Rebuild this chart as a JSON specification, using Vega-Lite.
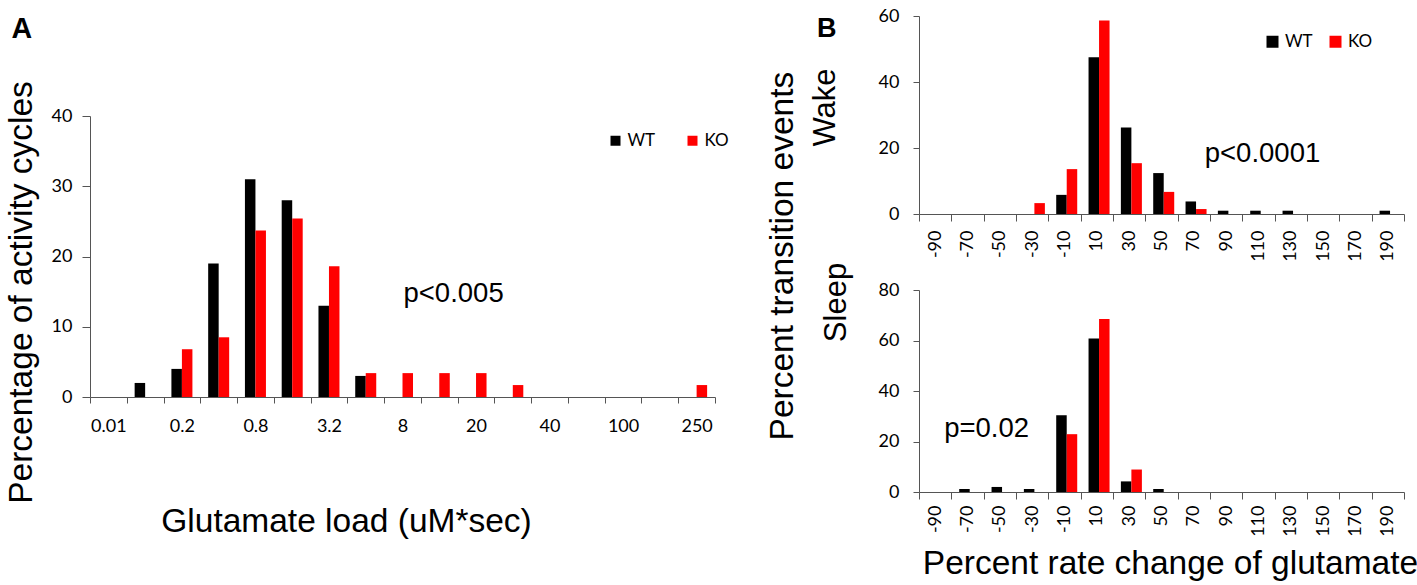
{
  "$schema": "https://vega.github.io/schema/vega-lite/v6.json",
  "background": "white",
  "padding": {"left": 4, "top": 7, "right": 0, "bottom": 0},
  "config": {
    "view": {"stroke": null},
    "axis": {
      "grid": false,
      "domainColor": "#555555",
      "tickColor": "#555555",
      "labelColor": "#000000",
      "labelFont": "Lato",
      "labelFontSize": 18,
      "titleFont": "Liberation Sans",
      "titleFontWeight": "normal",
      "titleColor": "#000000",
      "titleFontSize": 33.5
    },
    "legend": {
      "orient": "none",
      "direction": "horizontal",
      "title": null,
      "symbolType": "square",
      "symbolStrokeWidth": 0,
      "symbolOpacity": 1,
      "labelFont": "Lato",
      "labelFontSize": 17,
      "labelColor": "#000000",
      "padding": 0
    },
    "text": {"font": "Liberation Sans", "fontSize": 27.5, "color": "#000000"}
  },
  "datasets": {
    "load": [
      {"bin": "0.1", "genotype": "WT", "pct": 2},
      {"bin": "0.2", "genotype": "WT", "pct": 4},
      {"bin": "0.4", "genotype": "WT", "pct": 19},
      {"bin": "0.8", "genotype": "WT", "pct": 31},
      {"bin": "1.6", "genotype": "WT", "pct": 28},
      {"bin": "3.2", "genotype": "WT", "pct": 13},
      {"bin": "5", "genotype": "WT", "pct": 3},
      {"bin": "0.2", "genotype": "KO", "pct": 6.8},
      {"bin": "0.4", "genotype": "KO", "pct": 8.5},
      {"bin": "0.8", "genotype": "KO", "pct": 23.7},
      {"bin": "1.6", "genotype": "KO", "pct": 25.4},
      {"bin": "3.2", "genotype": "KO", "pct": 18.6},
      {"bin": "5", "genotype": "KO", "pct": 3.4},
      {"bin": "8", "genotype": "KO", "pct": 3.4},
      {"bin": "10", "genotype": "KO", "pct": 3.4},
      {"bin": "20", "genotype": "KO", "pct": 3.4},
      {"bin": "30", "genotype": "KO", "pct": 1.7},
      {"bin": "250", "genotype": "KO", "pct": 1.7}
    ],
    "wake": [
      {"change": -10, "genotype": "WT", "pct": 5.8},
      {"change": 10, "genotype": "WT", "pct": 47.5},
      {"change": 30, "genotype": "WT", "pct": 26.2},
      {"change": 50, "genotype": "WT", "pct": 12.4},
      {"change": 70, "genotype": "WT", "pct": 3.8},
      {"change": 90, "genotype": "WT", "pct": 1},
      {"change": 110, "genotype": "WT", "pct": 1},
      {"change": 130, "genotype": "WT", "pct": 1},
      {"change": 190, "genotype": "WT", "pct": 1},
      {"change": -30, "genotype": "KO", "pct": 3.3},
      {"change": -10, "genotype": "KO", "pct": 13.6},
      {"change": 10, "genotype": "KO", "pct": 58.6},
      {"change": 30, "genotype": "KO", "pct": 15.4},
      {"change": 50, "genotype": "KO", "pct": 6.7},
      {"change": 70, "genotype": "KO", "pct": 1.5}
    ],
    "sleep": [
      {"change": -70, "genotype": "WT", "pct": 1.2},
      {"change": -50, "genotype": "WT", "pct": 2},
      {"change": -30, "genotype": "WT", "pct": 1.2},
      {"change": -10, "genotype": "WT", "pct": 30.4},
      {"change": 10, "genotype": "WT", "pct": 60.8},
      {"change": 30, "genotype": "WT", "pct": 4.2},
      {"change": 50, "genotype": "WT", "pct": 1.2},
      {"change": -10, "genotype": "KO", "pct": 22.9},
      {"change": 10, "genotype": "KO", "pct": 68.5},
      {"change": 30, "genotype": "KO", "pct": 8.9}
    ]
  },
  "spacing": 10,
  "resolve": {"legend": {"color": "independent"}},
  "hconcat": [
    {
      "width": 625,
      "height": 381,
      "resolve": {"axis": {"x": "independent", "y": "independent"}},
      "layer": [
        {
          "data": {"name": "load"},
          "mark": {"type": "bar"},
          "encoding": {
            "x": {
              "field": "bin",
              "type": "ordinal",
              "sort": null,
              "scale": {
                "domain": ["0.01", "0.1", "0.2", "0.4", "0.8", "1.6", "3.2", "5", "8", "10", "20", "30", "40", "60", "100", "150", "250"],
                "paddingInner": 0,
                "paddingOuter": 0
              },
              "axis": {
                "orient": "bottom",
                "title": "Glutamate load (uM*sec)",
                "labelAngle": 0,
                "tickBand": "extent",
                "tickSize": 6,
                "labelPadding": 14,
                "labelExpr": "indexof(['0.01','0.2','0.8','3.2','8','20','40','100','250'], datum.value) >= 0 ? datum.label : ''",
                "titleX": 256,
                "titleY": 134.4,
                "titleBaseline": "alphabetic"
              }
            },
            "xOffset": {"field": "genotype", "scale": {"domain": ["WT", "KO"], "paddingInner": 0, "paddingOuter": 0.75}},
            "y": {
              "field": "pct",
              "type": "quantitative",
              "scale": {"domain": [0, 40], "range": [381, 100]},
              "axis": {
                "orient": "left",
                "values": [0, 10, 20, 30, 40],
                "title": "Percentage of activity cycles",
                "tickSize": 8,
                "labelPadding": 10,
                "labelFlush": false,
                "titleAngle": 270,
                "titleX": -58.4,
                "titleY": 276,
                "titleBaseline": "alphabetic"
              }
            },
            "color": {
              "field": "genotype",
              "type": "nominal",
              "scale": {"domain": ["WT", "KO"], "range": ["#000000", "#ff0000"]},
              "legend": {"legendX": 517, "legendY": 116, "symbolSize": 100, "labelOffset": 3.5, "columnPadding": 28}
            }
          }
        },
        {
          "data": {"values": [{}]},
          "mark": {"type": "text", "text": "p<0.005", "align": "left", "baseline": "alphabetic", "dx": 1},
          "encoding": {
            "x": {
              "datum": "8",
              "type": "ordinal",
              "axis": {
                "orient": "top",
                "labels": false,
                "ticks": false,
                "domain": false,
                "title": "A",
                "titleFontSize": 28.6,
                "titleFontWeight": "bold",
                "titleAlign": "left",
                "titleX": -79,
                "titleY": 21.3,
                "titleBaseline": "alphabetic"
              }
            },
            "y": {
              "datum": 13.56,
              "type": "quantitative",
              "axis": {
                "orient": "right",
                "labels": false,
                "ticks": false,
                "domain": false,
                "title": "Percent transition events",
                "titleAngle": 270,
                "titleX": 77,
                "titleY": 239.6,
                "titleBaseline": "alphabetic"
              }
            }
          }
        }
      ]
    },
    {
      "spacing": 0,
      "resolve": {"legend": {"color": "independent"}},
      "vconcat": [
        {
          "width": 485,
          "height": 198,
          "resolve": {"axis": {"x": "independent"}},
          "layer": [
            {
              "data": {"name": "wake"},
              "mark": {"type": "bar"},
              "encoding": {
                "x": {
                  "field": "change",
                  "type": "ordinal",
                  "scale": {"domain": [-90, -70, -50, -30, -10, 10, 30, 50, 70, 90, 110, 130, 150, 170, 190], "paddingInner": 0, "paddingOuter": 0},
                  "axis": {"orient": "bottom", "title": null, "labelAngle": 270, "tickBand": "extent", "tickSize": 7, "labelPadding": 9}
                },
                "xOffset": {"field": "genotype", "scale": {"domain": ["WT", "KO"], "paddingInner": 0, "paddingOuter": 0.75}},
                "y": {
                  "field": "pct",
                  "type": "quantitative",
                  "scale": {"domain": [0, 60]},
                  "axis": {
                    "values": [0, 20, 40, 60],
                    "title": "Wake",
                    "titleFontSize": 31,
                    "tickSize": 6,
                    "labelPadding": 14,
                    "labelFlush": false,
                    "titleAngle": 270,
                    "titleX": -85,
                    "titleY": 91,
                    "titleBaseline": "alphabetic"
                  }
                },
                "color": {
                  "field": "genotype",
                  "type": "nominal",
                  "scale": {"domain": ["WT", "KO"], "range": ["#000000", "#ff0000"]},
                  "legend": {"legendX": 345, "legendY": 17, "symbolSize": 144, "labelOffset": 4, "columnPadding": 14}
                }
              }
            },
            {
              "data": {"values": [{}]},
              "mark": {"type": "text", "text": "p<0.0001", "align": "center", "baseline": "alphabetic", "dx": 4},
              "encoding": {
                "x": {
                  "datum": 110,
                  "type": "ordinal",
                  "axis": {
                    "orient": "top",
                    "labels": false,
                    "ticks": false,
                    "domain": false,
                    "title": "B",
                    "titleFontSize": 27,
                    "titleFontWeight": "bold",
                    "titleAlign": "left",
                    "titleX": -102.5,
                    "titleY": 20.3,
                    "titleBaseline": "alphabetic"
                  }
                },
                "y": {"datum": 15.9, "type": "quantitative"}
              }
            }
          ]
        },
        {
          "width": 485,
          "height": 202,
          "layer": [
            {
              "data": {"name": "sleep"},
              "mark": {"type": "bar"},
              "encoding": {
                "x": {
                  "field": "change",
                  "type": "ordinal",
                  "scale": {"domain": [-90, -70, -50, -30, -10, 10, 30, 50, 70, 90, 110, 130, 150, 170, 190], "paddingInner": 0, "paddingOuter": 0},
                  "axis": {
                    "title": "Percent rate change of glutamate",
                    "labelAngle": 270,
                    "tickBand": "extent",
                    "tickSize": 7,
                    "labelPadding": 6,
                    "titleX": 251,
                    "titleY": 81.7,
                    "titleBaseline": "alphabetic"
                  }
                },
                "xOffset": {"field": "genotype", "scale": {"domain": ["WT", "KO"], "paddingInner": 0, "paddingOuter": 0.75}},
                "y": {
                  "field": "pct",
                  "type": "quantitative",
                  "scale": {"domain": [0, 80]},
                  "axis": {
                    "values": [0, 20, 40, 60, 80],
                    "title": "Sleep",
                    "titleFontSize": 31,
                    "tickSize": 6,
                    "labelPadding": 14,
                    "labelFlush": false,
                    "titleAngle": 270,
                    "titleX": -74,
                    "titleY": 12,
                    "titleBaseline": "alphabetic"
                  }
                },
                "color": {
                  "field": "genotype",
                  "type": "nominal",
                  "scale": {"domain": ["WT", "KO"], "range": ["#000000", "#ff0000"]},
                  "legend": null
                }
              }
            },
            {
              "data": {"values": [{}]},
              "mark": {"type": "text", "text": "p=0.02", "align": "left", "baseline": "alphabetic", "dx": 9},
              "encoding": {"x": {"datum": -90, "type": "ordinal"}, "y": {"datum": 21.8, "type": "quantitative"}}
            }
          ]
        }
      ]
    }
  ]
}
